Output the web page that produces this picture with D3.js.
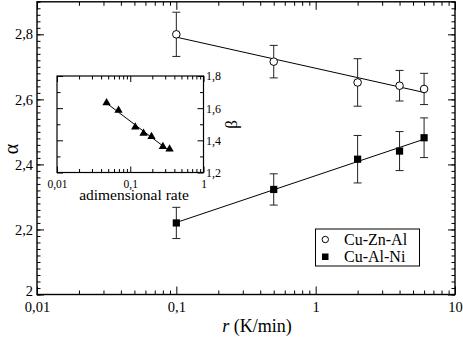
<!DOCTYPE html>
<html>
<head>
<meta charset="utf-8">
<script src="https://cdn.jsdelivr.net/npm/d3@7.9.0/dist/d3.min.js"></script>
<style>
  body { margin: 0; background: #fff; }
  svg { display: block; }
  .domain { display: none; }
</style>
</head>
<body>
<svg id="chart" width="463" height="339" font-family="Liberation Serif"></svg>
<script>
// ---- data ----
const rateZn  = [0.1, 0.5, 2, 4, 6];
const alphaZn = [2.800, 2.716, 2.652, 2.642, 2.632];
const errZn   = [0.068, 0.050, 0.073, 0.047, 0.048];

const rateNi  = [0.1, 0.5, 2, 4, 6];
const alphaNi = [2.220, 2.323, 2.416, 2.441, 2.482];
const errNi   = [0.048, 0.048, 0.073, 0.060, 0.061];

const insetRate = [0.0475, 0.0692, 0.117, 0.152, 0.195, 0.279, 0.344];
const insetBeta = [1.633, 1.586, 1.483, 1.444, 1.423, 1.361, 1.345];

const xTicks = [0.01, 0.1, 1, 10];
const xTickLabels = ["0,01", "0,1", "1", "10"];
const yTicks = [2, 2.2, 2.4, 2.6, 2.8];
const yTickLabels = ["2", "2,2", "2,4", "2,6", "2,8"];
const insetXTicks = [0.01, 0.1, 1];
const insetXTickLabels = ["0,01", "0,1", "1"];
const insetYTicks = [1.2, 1.4, 1.6, 1.8];
const insetYTickLabels = ["1,2", "1,4", "1,6", "1,8"];

const SERIF = "Liberation Serif";
const svg = d3.select("#chart");

// log-decade minor ticks
function logMinors(lo, hi) {
    let out = [];
    for (let d = lo; d < hi; d *= 10)
        for (let k = 2; k <= 9; k++) out.push(d * k);
    return out;
}
function linMinors(lo, hi, step) {
    let out = [];
    for (let v = lo; v <= hi + 1e-9; v += step) out.push(+v.toFixed(4));
    return out;
}

// simple least squares in log10(x)
function fitLine(xs, ys) {
    const lx = xs.map(Math.log10);
    const mx = d3.mean(lx), my = d3.mean(ys);
    let sxy = 0, sxx = 0;
    lx.forEach((v, i) => { sxy += (v - mx) * (ys[i] - my); sxx += (v - mx) ** 2; });
    const b = sxy / sxx, a = my - b * mx;
    return xs.map(x => [x, a + b * Math.log10(x)]);
}

// ---- main plot ----
const L = 37, R = 455, T = 1.8, B = 294.5;
const x = d3.scaleLog().domain([0.01, 10]).range([L, R]);
const y = d3.scaleLinear().domain([2, 2.9]).range([B, T]);

function addAxis(parent, gen, tr) {
    const g = parent.append("g").attr("transform", tr).call(gen)
        .attr("font-family", SERIF);
    g.selectAll("text").attr("font-family", SERIF);
    return g;
}
const fmt = (vals, labels) => d => labels[vals.indexOf(d)];

// bottom
addAxis(svg, d3.axisBottom(x).tickValues(xTicks).tickFormat(fmt(xTicks, xTickLabels))
    .tickSize(-8).tickPadding(7.5), `translate(0,${B})`)
    .selectAll("text").attr("font-size", 14.5).attr("fill", "#000");
addAxis(svg, d3.axisBottom(x).tickValues(logMinors(0.01, 10)).tickFormat("").tickSize(-4), `translate(0,${B})`);
// top
addAxis(svg, d3.axisTop(x).tickValues(xTicks).tickFormat("").tickSize(-8), `translate(0,${T})`);
addAxis(svg, d3.axisTop(x).tickValues(logMinors(0.01, 10)).tickFormat("").tickSize(-4), `translate(0,${T})`);
// left
addAxis(svg, d3.axisLeft(y).tickValues(yTicks).tickFormat(fmt(yTicks, yTickLabels))
    .tickSize(-7).tickPadding(4), `translate(${L},0)`)
    .selectAll("text").attr("font-size", 14.5).attr("fill", "#000")
    .attr("dy", (d, i) => i === 0 ? "0.1em" : "0.32em");
addAxis(svg, d3.axisLeft(y).tickValues(linMinors(2, 2.9, 0.02)).tickFormat("").tickSize(-3.5), `translate(${L},0)`);
// right
addAxis(svg, d3.axisRight(y).tickValues(yTicks).tickFormat("").tickSize(-7), `translate(${R},0)`);
addAxis(svg, d3.axisRight(y).tickValues(linMinors(2, 2.9, 0.02)).tickFormat("").tickSize(-3.5), `translate(${R},0)`);

svg.selectAll(".tick line").attr("stroke", "#000").attr("stroke-width", 1);

svg.append("rect").attr("x", L).attr("y", T).attr("width", R - L).attr("height", B - T)
    .attr("fill", "none").attr("stroke", "#000").attr("stroke-width", 1.4);

const line = d3.line().x(d => x(d[0])).y(d => y(d[1]));

function drawSeries(rates, vals, errs, shape) {
    svg.append("path").datum(fitLine(rates, vals)).attr("d", line)
        .attr("fill", "none").attr("stroke", "#000").attr("stroke-width", 1);
    const g = svg.append("g");
    rates.forEach((r, i) => {
        const cx = x(r), top = y(vals[i] + errs[i]), bot = y(vals[i] - errs[i]);
        g.append("line").attr("x1", cx).attr("x2", cx).attr("y1", top).attr("y2", bot)
            .attr("stroke", "#222").attr("stroke-width", 1);
        [top, bot].forEach(v => g.append("line").attr("x1", cx - 4).attr("x2", cx + 4)
            .attr("y1", v).attr("y2", v).attr("stroke", "#222").attr("stroke-width", 1));
    });
    rates.forEach((r, i) => {
        if (shape === "circle") {
            g.append("circle").attr("cx", x(r)).attr("cy", y(vals[i])).attr("r", 3.8)
                .attr("fill", "#fff").attr("stroke", "#000").attr("stroke-width", 1);
        } else {
            g.append("rect").attr("x", x(r) - 3.6).attr("y", y(vals[i]) - 3.6)
                .attr("width", 7.2).attr("height", 7.2).attr("fill", "#000");
        }
    });
}
drawSeries(rateZn, alphaZn, errZn, "circle");
drawSeries(rateNi, alphaNi, errNi, "square");

// axis labels
const xl = svg.append("text").attr("x", 257).attr("y", 332).attr("text-anchor", "middle")
    .attr("font-family", SERIF).attr("font-size", 18);
xl.append("tspan").attr("font-style", "italic").text("r");
xl.append("tspan").text(" (K/min)");

svg.append("text").attr("transform", "translate(18,149) rotate(-90)")
    .attr("text-anchor", "middle").attr("font-family", SERIF).attr("font-size", 20).text("α");

// legend
const leg = svg.append("g");
leg.append("rect").attr("x", 315.5).attr("y", 229).attr("width", 104).attr("height", 37)
    .attr("fill", "#fff").attr("stroke", "#000").attr("stroke-width", 1);
leg.append("circle").attr("cx", 325.3).attr("cy", 239.5).attr("r", 3.2)
    .attr("fill", "#fff").attr("stroke", "#000");
leg.append("rect").attr("x", 322).attr("y", 253.5).attr("width", 6.5).attr("height", 6.5).attr("fill", "#000");
leg.append("text").attr("x", 344).attr("y", 245).attr("font-family", SERIF).attr("font-size", 16).text("Cu-Zn-Al");
leg.append("text").attr("x", 344).attr("y", 262).attr("font-family", SERIF).attr("font-size", 16).text("Cu-Al-Ni");

// ---- inset ----
const iL = 57, iR = 203.5, iT = 76, iB = 172.5;
const ix = d3.scaleLog().domain([0.01, 1]).range([iL, iR]);
const iy = d3.scaleLinear().domain([1.2, 1.8]).range([iB, iT]);

const inset = svg.append("g");
inset.append("rect").attr("x", iL).attr("y", iT).attr("width", iR - iL).attr("height", iB - iT)
    .attr("fill", "#fff");

addAxis(inset, d3.axisBottom(ix).tickValues(insetXTicks).tickFormat(fmt(insetXTicks, insetXTickLabels))
    .tickSize(-6).tickPadding(7.5), `translate(0,${iB})`)
    .selectAll("text").attr("font-size", 11.5).attr("fill", "#000");
addAxis(inset, d3.axisBottom(ix).tickValues(logMinors(0.01, 1)).tickFormat("").tickSize(-3.5), `translate(0,${iB})`);
addAxis(inset, d3.axisTop(ix).tickValues(insetXTicks).tickFormat("").tickSize(-6), `translate(0,${iT})`);
addAxis(inset, d3.axisTop(ix).tickValues(logMinors(0.01, 1)).tickFormat("").tickSize(-3.5), `translate(0,${iT})`);
addAxis(inset, d3.axisRight(iy).tickValues(insetYTicks).tickFormat(fmt(insetYTicks, insetYTickLabels))
    .tickSize(-6).tickPadding(2.5), `translate(${iR},0)`)
    .selectAll("text").attr("font-size", 12).attr("fill", "#000");
addAxis(inset, d3.axisRight(iy).tickValues([1.3, 1.5, 1.7]).tickFormat("").tickSize(-3.5), `translate(${iR},0)`);
addAxis(inset, d3.axisLeft(iy).tickValues(insetYTicks).tickFormat("").tickSize(-6), `translate(${iL},0)`);
addAxis(inset, d3.axisLeft(iy).tickValues([1.3, 1.5, 1.7]).tickFormat("").tickSize(-3.5), `translate(${iL},0)`);
inset.selectAll(".tick line").attr("stroke", "#000").attr("stroke-width", 1);

inset.append("rect").attr("x", iL).attr("y", iT).attr("width", iR - iL).attr("height", iB - iT)
    .attr("fill", "none").attr("stroke", "#000").attr("stroke-width", 1.2);

const iline = d3.line().x(d => ix(d[0])).y(d => iy(d[1]));
inset.append("path").datum(fitLine(insetRate, insetBeta)).attr("d", iline)
    .attr("fill", "none").attr("stroke", "#000").attr("stroke-width", 1);
const tri = d3.symbol().type(d3.symbolTriangle).size(30);
insetRate.forEach((r, i) => {
    inset.append("path").attr("d", tri)
        .attr("transform", `translate(${ix(r)},${iy(insetBeta[i])})`).attr("fill", "#000");
});

inset.append("text").attr("x", 134).attr("y", 199.5).attr("text-anchor", "middle")
    .attr("font-family", SERIF).attr("font-size", 15.5).text("adimensional rate");
inset.append("text").attr("transform", "translate(237,124.5) rotate(-90)")
    .attr("text-anchor", "middle").attr("font-family", SERIF).attr("font-size", 17).text("β");
</script>
</body>
</html>
